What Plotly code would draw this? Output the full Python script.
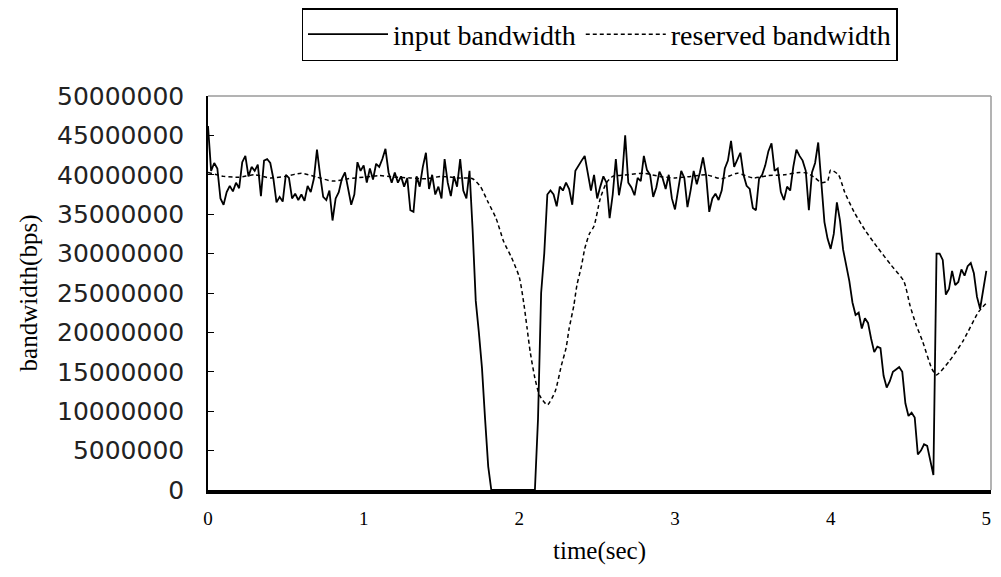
import plotly.graph_objects as go

# ---------------- data ----------------
input_time = [round(i * 0.02, 2) for i in range(251)]
input_bw_mbps = [
    46.2, 40.5, 41.5, 40.8, 37.0, 36.2, 37.8, 38.6, 37.9, 39.0,
    38.3, 41.6, 42.4, 39.8, 41.0, 40.5, 41.3, 37.3, 41.8, 42.0,
    41.5, 39.5, 36.5, 37.2, 36.6, 40.0, 39.6, 37.0, 37.6, 36.8,
    37.5, 36.7, 38.6, 37.8, 39.5, 43.2, 40.0, 37.2, 36.8, 38.0,
    34.2, 37.0, 37.8, 39.5, 40.3, 38.0, 36.2, 37.5, 41.6, 40.5,
    41.2, 39.0, 40.8, 39.4, 41.4, 41.0, 42.0, 43.3, 40.3, 39.0,
    40.3, 39.0, 39.8, 38.5, 39.6, 35.5, 35.3, 39.8, 38.5, 41.0,
    42.8, 38.2, 40.0, 37.5, 38.5, 37.0, 42.0, 39.0, 37.3, 39.8,
    38.5, 42.0, 38.0, 37.0, 40.5, 33.0, 24.0, 20.0, 15.5, 9.0,
    3.0, 0.0, 0.0, 0.0, 0.0, 0.0, 0.0, 0.0, 0.0, 0.0,
    0.0, 0.0, 0.0, 0.0, 0.0, 0.0, 9.0, 25.0, 30.0, 37.5,
    38.0, 37.5, 36.0, 38.5, 38.0, 39.0, 38.2, 36.2, 40.5, 41.2,
    41.8, 42.4, 40.0, 38.0, 40.0, 37.0, 38.5, 39.8, 39.0, 34.5,
    37.5, 42.0, 37.4, 39.6, 45.0, 39.0, 38.4, 37.4, 39.6, 39.2,
    42.4, 40.6, 40.0, 37.2, 38.4, 40.4, 39.6, 38.2, 40.0, 37.0,
    35.6, 37.8, 40.5, 39.6, 35.9, 38.0, 40.5, 38.8, 40.3, 42.2,
    39.9, 35.3, 37.0, 37.6, 36.8, 38.0, 40.8, 41.8, 44.3, 41.0,
    41.8, 42.8, 40.0, 38.6, 38.2, 35.8, 35.5, 39.5, 40.0, 41.2,
    43.0, 44.0, 40.5, 40.8, 37.8, 36.8, 38.5, 38.0, 41.0, 43.2,
    42.4, 41.8, 40.5, 35.5, 40.3, 41.5, 44.1, 38.5, 34.0, 31.9,
    30.6, 32.5, 36.5, 34.2, 30.5, 28.5, 26.5, 23.8, 22.2, 22.5,
    20.5, 21.8, 21.2, 19.2, 17.5, 18.2, 18.0, 14.5, 13.0, 13.8,
    15.0, 15.3, 15.6, 15.0, 11.0, 9.4, 9.8, 9.2, 4.5, 5.0,
    5.8, 5.6, 3.5, 1.9, 30.0, 30.0, 29.2, 24.8, 25.5, 27.8,
    26.0, 26.4, 28.0, 27.2, 28.4, 28.8, 27.5, 24.5, 23.0, 25.5,
    27.8,
]

reserved_time = [
    0.00, 0.10, 0.20, 0.30, 0.40, 0.50, 0.60, 0.70, 0.80, 0.90,
    1.00, 1.10, 1.20, 1.30, 1.40, 1.50, 1.60, 1.70, 1.75, 1.80,
    1.85, 1.90, 1.95, 2.00, 2.03, 2.05, 2.07, 2.10, 2.13, 2.18,
    2.23, 2.27, 2.30, 2.32, 2.35, 2.37, 2.40, 2.42, 2.45, 2.48,
    2.52, 2.56, 2.60, 2.70, 2.80, 2.90, 3.00, 3.10, 3.20, 3.30,
    3.40, 3.50, 3.60, 3.70, 3.80, 3.85, 3.90, 3.94, 3.98, 4.00,
    4.05, 4.09, 4.15, 4.22, 4.30, 4.39, 4.47, 4.51, 4.55, 4.59,
    4.65, 4.68, 4.76, 4.85, 4.95, 5.00,
]
reserved_bw_mbps = [
    40.3, 39.8, 39.7, 40.0, 39.6, 39.8, 40.2, 39.7, 39.2, 39.5,
    39.7, 39.9, 39.7, 39.6, 39.5, 39.8, 39.6, 39.5, 38.5, 36.5,
    34.5, 31.5, 29.5, 27.0, 23.5, 20.5, 17.5, 14.2, 12.0, 10.8,
    12.5, 15.8, 18.0, 20.5, 23.4, 26.0, 28.5, 30.6, 32.5, 33.5,
    37.0, 39.0, 39.8, 40.0, 40.2, 39.8, 39.6, 39.8, 40.0, 39.5,
    40.2, 39.6, 39.9, 40.0, 40.3, 40.2, 39.6, 39.0, 39.2, 40.6,
    40.0, 37.8, 35.3, 33.0, 30.8, 28.5, 26.5, 23.4, 20.9, 18.9,
    15.4, 14.6, 16.3, 18.9, 22.6, 23.7,
]

y_ticks = [i * 5000000 for i in range(11)]
x_ticks = [0, 1, 2, 3, 4, 5]

input_bw = [v * 1e6 for v in input_bw_mbps]
reserved_bw = [v * 1e6 for v in reserved_bw_mbps]

SERIF = "Liberation Serif, Times New Roman, serif"

fig = go.Figure()
fig.add_trace(go.Scatter(
    x=input_time, y=input_bw, mode="lines", name="input bandwidth",
    line=dict(color="black", width=1.8),
))
fig.add_trace(go.Scatter(
    x=reserved_time, y=reserved_bw, mode="lines", name="reserved bandwidth",
    line=dict(color="black", width=1.5, dash="4px,3px", shape="spline", smoothing=0.6),
))

# page body has an 8px margin, so the figure is offset by 8px right and down
fig.update_layout(
    width=985, height=557,
    margin=dict(l=200, r=2, t=88, b=73),
    paper_bgcolor="white", plot_bgcolor="white",
    showlegend=True,
    legend=dict(
        orientation="h", x=0.5, xanchor="center", xref="paper",
        y=1.0, yanchor="top", yref="container",
        bordercolor="black", borderwidth=1.5, bgcolor="white",
        font=dict(family=SERIF, size=28, color="black"),
        itemwidth=80, tracegroupgap=0,
    ),
    shapes=[
        dict(type="line", xref="paper", yref="paper", x0=0, x1=1, y0=1, y1=1,
             line=dict(color="#9a9a9a", width=1.5)),
        dict(type="line", xref="paper", yref="paper", x0=1, x1=1, y0=0, y1=1,
             line=dict(color="#9a9a9a", width=1.5)),
    ],
)

fig.update_xaxes(
    range=[0, 5.03], tickvals=x_ticks, ticktext=[str(v) for v in x_ticks],
    showgrid=False, zeroline=False, showline=True, linecolor="black", linewidth=4,
    ticks="", tickfont=dict(family=SERIF, size=19, color="black"),
    ticklabelstandoff=8, ticklabeloverflow="allow",
    title=dict(text="time(sec)", font=dict(family=SERIF, size=25, color="black"), standoff=17),
)
fig.update_yaxes(
    range=[0, 50000000], tickvals=y_ticks, ticktext=[str(v) for v in y_ticks],
    showgrid=False, zeroline=False, showline=True, linecolor="black", linewidth=1.5,
    ticks="inside", ticklen=6, tickcolor="black", tickwidth=1.2,
    tickfont=dict(family="DejaVu Sans, sans-serif", size=25, color="#222222"),
    ticklabelstandoff=17,
    title=dict(text="bandwidth(bps)", font=dict(family=SERIF, size=25, color="black"), standoff=12),
)

fig.write_html("out.html")
